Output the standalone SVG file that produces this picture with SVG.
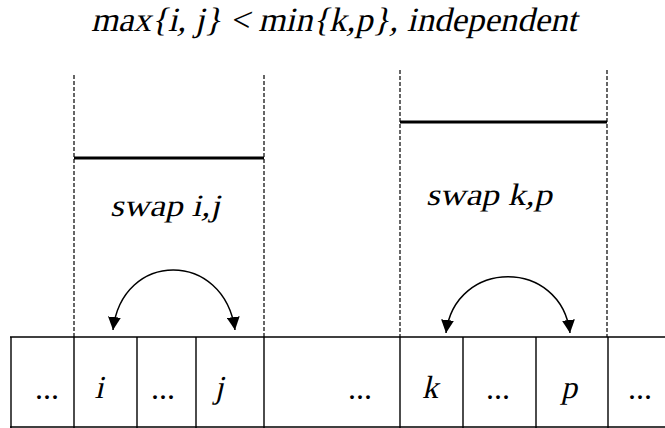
<svg xmlns="http://www.w3.org/2000/svg" width="665" height="428" viewBox="0 0 665 428">
<style>
  .title { font-size: 34px; }
  .lbl { font-size: 31px; }
  .cell { font-size: 32px; text-anchor: middle; }
  .dots { font-size: 32px; text-anchor: middle; }
  .dash { stroke: #000; stroke-width: 1.2; stroke-dasharray: 4 2; fill: none; }
  .thick { stroke: #000; stroke-width: 3.2; }
  .grid { stroke: #000; stroke-width: 1.4; fill: none; }
  .arc { stroke: #000; stroke-width: 1.5; fill: none; marker-start: url(#ah); marker-end: url(#ah); }
</style>
<defs>
  <marker id="ah" viewBox="0 0 12 12" refX="12" refY="6" markerWidth="13" markerHeight="13" markerUnits="userSpaceOnUse" orient="auto-start-reverse">
    <path d="M0,0 L12,6 L0,12 z" fill="#000"/>
  </marker>
</defs>
<rect width="665" height="428" fill="#fff"/>

<g id="title">
  <text class="title" font-family="Liberation Serif, serif" fill="#000" transform="translate(91,31) skewX(-13)" x="0" y="0" textLength="486" lengthAdjust="spacingAndGlyphs">max{i, j} &lt; min{k,p}, independent</text>
</g>

<g id="swap-ij">
  <line class="dash" x1="74" y1="75" x2="74" y2="337"/>
  <line class="dash" x1="264" y1="75" x2="264" y2="337"/>
  <line class="thick" x1="74" y1="158" x2="264" y2="158"/>
  <text class="lbl" font-family="Liberation Serif, serif" fill="#000" transform="translate(110,216) skewX(-13)" x="0" y="0" textLength="110" lengthAdjust="spacingAndGlyphs">swap i,j</text>
</g>

<g id="swap-kp">
  <line class="dash" x1="400" y1="70" x2="400" y2="337"/>
  <line class="dash" x1="607" y1="70" x2="607" y2="337"/>
  <line class="thick" x1="400" y1="122" x2="607" y2="122"/>
  <text class="lbl" font-family="Liberation Serif, serif" fill="#000" transform="translate(426,205) skewX(-13)" x="0" y="0" textLength="126" lengthAdjust="spacingAndGlyphs">swap k,p</text>
</g>

<g id="array">
  <line class="grid" x1="10" y1="337" x2="665" y2="337"/>
  <line class="grid" x1="10" y1="427" x2="665" y2="427"/>
  <line class="grid" x1="11" y1="337" x2="11" y2="428"/>
  <line class="grid" x1="74" y1="337" x2="74" y2="428"/>
  <line class="grid" x1="137" y1="337" x2="137" y2="428"/>
  <line class="grid" x1="196" y1="337" x2="196" y2="428"/>
  <line class="grid" x1="264" y1="337" x2="264" y2="428"/>
  <line class="grid" x1="400" y1="337" x2="400" y2="428"/>
  <line class="grid" x1="463" y1="337" x2="463" y2="428"/>
  <line class="grid" x1="536" y1="337" x2="536" y2="428"/>
  <line class="grid" x1="608" y1="337" x2="608" y2="428"/>
</g>
<g id="cell-1"><text class="dots" font-family="Liberation Serif, serif" x="47" y="399">...</text></g>
<g id="cell-i"><text class="cell" font-family="Liberation Serif, serif" transform="translate(99,398) skewX(-13)" x="0" y="0">i</text></g>
<g id="cell-3"><text class="dots" font-family="Liberation Serif, serif" x="163" y="399">...</text></g>
<g id="cell-j"><text class="cell" font-family="Liberation Serif, serif" transform="translate(219,398) skewX(-13)" x="0" y="0">j</text></g>
<g id="cell-5"><text class="dots" font-family="Liberation Serif, serif" x="360" y="399">...</text></g>
<g id="cell-k"><text class="cell" font-family="Liberation Serif, serif" transform="translate(430,398) skewX(-13)" x="0" y="0">k</text></g>
<g id="cell-7"><text class="dots" font-family="Liberation Serif, serif" x="498" y="399">...</text></g>
<g id="cell-p"><text class="cell" font-family="Liberation Serif, serif" transform="translate(569,398) skewX(-13)" x="0" y="0">p</text></g>
<g id="cell-9"><text class="dots" font-family="Liberation Serif, serif" x="640" y="399">...</text></g>

<g id="connectors">
  <path class="arc" d="M113,330 C122,250 224,250 235,330"/>
  <path class="arc" d="M446,333 C455,258 561,258 570,333"/>
</g>
</svg>
